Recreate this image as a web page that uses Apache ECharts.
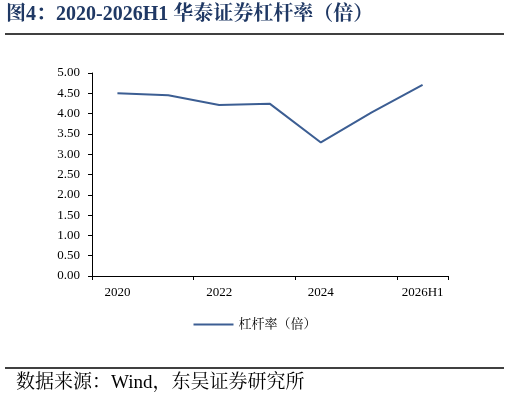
<!DOCTYPE html>
<html><head><meta charset="utf-8">
<script src="https://cdn.jsdelivr.net/npm/echarts@6/dist/echarts.min.js"></script>
<style>body{margin:0;background:#fff}#c{width:510px;height:401px}</style></head>
<body><div id="c"></div>
<script>
const categories=['2020','2021','2022','2023','2024','2025','2026H1'];
const leverage=[4.50,4.45,4.21,4.24,3.29,4.03,4.71];
const seriesName='杠杆率（倍）';
const chart=echarts.init(document.getElementById('c'));
const serif='"Times New Roman","Liberation Serif","Noto Serif CJK SC","Noto Sans CJK SC",serif';
chart.setOption({
  animation:false,
  graphic:[
    {type:'text',left:6,top:5,style:{text:'图4：2020-2026H1 华泰证券杠杆率（倍）',font:'bold 20px '+serif,fill:'#1f3864'}},
    {type:'line',shape:{x1:5,y1:34,x2:504,y2:34},style:{stroke:'#000',lineWidth:1.5}},
    {type:'line',shape:{x1:5,y1:368,x2:504,y2:368},style:{stroke:'#000',lineWidth:1.5}},
    {type:'text',left:16,top:374,style:{text:'数据来源：Wind，东吴证券研究所',font:'19px '+serif,fill:'#000'}}
  ],
  grid:{left:92,right:62,top:73,bottom:125},
  legend:{bottom:65,left:'center',itemWidth:40,itemHeight:2,icon:'rect',textStyle:{fontSize:13,fontFamily:serif,color:'#000'},data:[seriesName]},
  xAxis:{type:'category',data:categories,boundaryGap:true,
    axisLine:{lineStyle:{color:'#000'}},axisTick:{show:true,inside:false,length:4,lineStyle:{color:'#000'}},
    axisLabel:{color:'#000',fontSize:13,fontFamily:serif,margin:10}},
  yAxis:{type:'value',min:0,max:5,interval:0.5,
    axisLine:{show:true,lineStyle:{color:'#000'}},axisTick:{show:true,length:4,lineStyle:{color:'#000'}},
    splitLine:{show:false},
    axisLabel:{color:'#000',fontSize:13,fontFamily:serif,formatter:v=>v.toFixed(2),margin:12}},
  series:[{name:seriesName,type:'line',data:leverage,symbol:'none',lineStyle:{color:'#3c5e93',width:2},itemStyle:{color:'#3c5e93'}}]
});
</script></body></html>
